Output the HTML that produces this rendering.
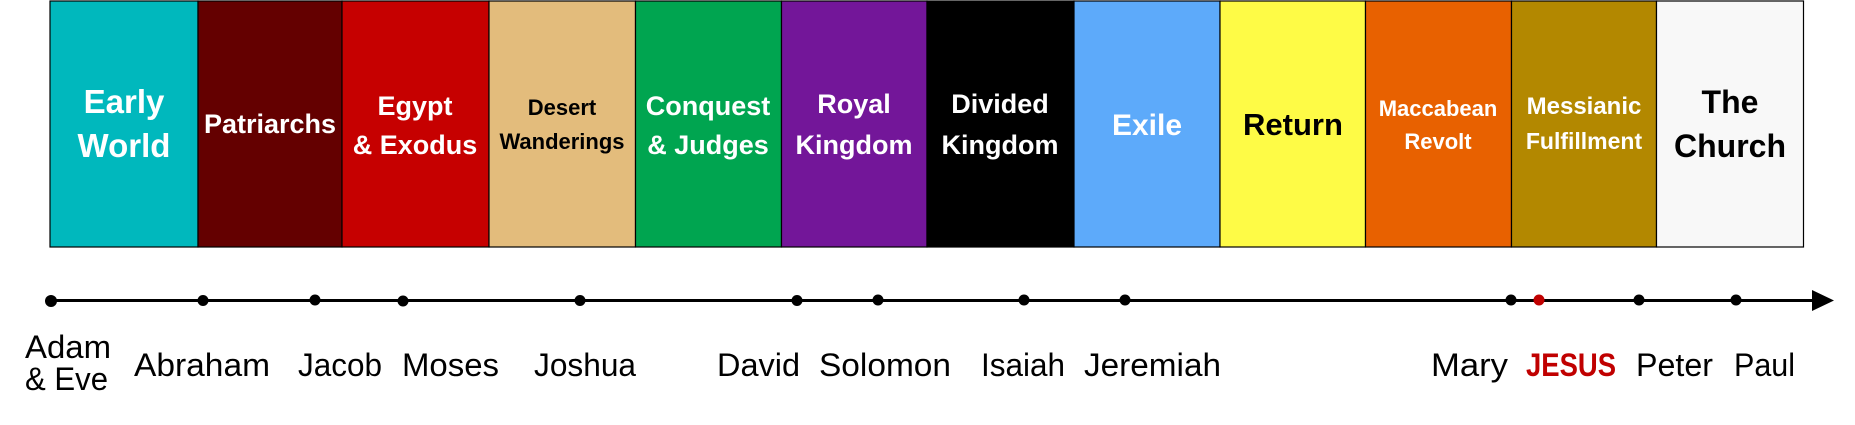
<!DOCTYPE html>
<html><head><meta charset="utf-8"><style>
html,body{margin:0;padding:0;background:#fff;}
svg{display:block;}
</style></head><body>
<svg width="1855" height="425" viewBox="0 0 1855 425" xmlns="http://www.w3.org/2000/svg" font-family="Liberation Sans, sans-serif">
<g stroke="#000" stroke-width="1.2">
<rect x="50" y="1" width="148" height="246" fill="#00b8bd"/>
<rect x="198" y="1" width="144" height="246" fill="#640000"/>
<rect x="342" y="1" width="147" height="246" fill="#c60000"/>
<rect x="489" y="1" width="146.5" height="246" fill="#e3bc7c"/>
<rect x="635.5" y="1" width="146" height="246" fill="#00a550"/>
<rect x="781.5" y="1" width="145.5" height="246" fill="#731699"/>
<rect x="927" y="1" width="147" height="246" fill="#000"/>
<rect x="1074" y="1" width="146" height="246" fill="#5daafa"/>
<rect x="1220" y="1" width="145.5" height="246" fill="#fefb46"/>
<rect x="1365.5" y="1" width="146" height="246" fill="#e86100"/>
<rect x="1511.5" y="1" width="145" height="246" fill="#b38800"/>
<rect x="1656.5" y="1" width="147" height="246" fill="#f8f8f8"/>
</g>
<g font-weight="bold" text-anchor="middle">
<text x="124" y="113" font-size="33" fill="#fff">Early</text>
<text x="124" y="157" font-size="33" fill="#fff">World</text>
<text x="270" y="133" font-size="27" fill="#fff">Patriarchs</text>
<text x="415" y="115" font-size="27" fill="#fff">Egypt</text>
<text x="415" y="154" font-size="27" fill="#fff">&amp; Exodus</text>
<text x="562" y="115" font-size="22" fill="#000">Desert</text>
<text x="562" y="149" font-size="22" fill="#000">Wanderings</text>
<text x="708" y="115" font-size="27" fill="#fff">Conquest</text>
<text x="708" y="154" font-size="27" fill="#fff">&amp; Judges</text>
<text x="854" y="113" font-size="27" fill="#fff">Royal</text>
<text x="854" y="154" font-size="27" fill="#fff">Kingdom</text>
<text x="1000" y="113" font-size="27" fill="#fff">Divided</text>
<text x="1000" y="154" font-size="27" fill="#fff">Kingdom</text>
<text x="1147" y="135" font-size="30" fill="#fff">Exile</text>
<text x="1293" y="135" font-size="31" fill="#000">Return</text>
<text x="1438" y="116" font-size="22" fill="#fff">Maccabean</text>
<text x="1438" y="149" font-size="22" fill="#fff">Revolt</text>
<text x="1584" y="114" font-size="24" fill="#fff">Messianic</text>
<text x="1584" y="149" font-size="23" fill="#fff">Fulfillment</text>
<text x="1730" y="113" font-size="32" fill="#000">The</text>
<text x="1730" y="157" font-size="32" fill="#000">Church</text>
</g>
<line x1="51" y1="300.5" x2="1816" y2="300.5" stroke="#000" stroke-width="3"/>
<polygon points="1812,290 1834,300.5 1812,311" fill="#000"/>
<g fill="#000">
<circle cx="51" cy="301" r="6"/>
<circle cx="203" cy="300.5" r="5.5"/>
<circle cx="315" cy="300" r="5.5"/>
<circle cx="403" cy="301" r="5.5"/>
<circle cx="580" cy="300.5" r="5.5"/>
<circle cx="797" cy="300.5" r="5.5"/>
<circle cx="878" cy="300" r="5.5"/>
<circle cx="1024" cy="300" r="5.5"/>
<circle cx="1125" cy="300" r="5.5"/>
<circle cx="1511" cy="300" r="5.5"/>
<circle cx="1539" cy="300" r="5.5" fill="#c00000"/>
<circle cx="1639" cy="300" r="5.5"/>
<circle cx="1736" cy="300" r="5.5"/>
</g>
<g font-size="32" fill="#000" lengthAdjust="spacingAndGlyphs">
<text x="25" y="358" textLength="86" lengthAdjust="spacingAndGlyphs">Adam</text>
<text x="25" y="390" textLength="83" lengthAdjust="spacingAndGlyphs">&amp; Eve</text>
<text x="134" y="376" textLength="136" lengthAdjust="spacingAndGlyphs">Abraham</text>
<text x="298" y="376" textLength="84" lengthAdjust="spacingAndGlyphs">Jacob</text>
<text x="402" y="376" textLength="97" lengthAdjust="spacingAndGlyphs">Moses</text>
<text x="534" y="376" textLength="102" lengthAdjust="spacingAndGlyphs">Joshua</text>
<text x="717" y="376" textLength="83" lengthAdjust="spacingAndGlyphs">David</text>
<text x="819" y="376" textLength="132" lengthAdjust="spacingAndGlyphs">Solomon</text>
<text x="981" y="376" textLength="84" lengthAdjust="spacingAndGlyphs">Isaiah</text>
<text x="1084" y="376" textLength="137" lengthAdjust="spacingAndGlyphs">Jeremiah</text>
<text x="1431" y="376" textLength="77" lengthAdjust="spacingAndGlyphs">Mary</text>
<text x="1526" y="376" textLength="90" lengthAdjust="spacingAndGlyphs" font-weight="bold" fill="#c00000">JESUS</text>
<text x="1636" y="376" textLength="77" lengthAdjust="spacingAndGlyphs">Peter</text>
<text x="1734" y="376" textLength="61" lengthAdjust="spacingAndGlyphs">Paul</text>
</g>
</svg>
</body></html>
